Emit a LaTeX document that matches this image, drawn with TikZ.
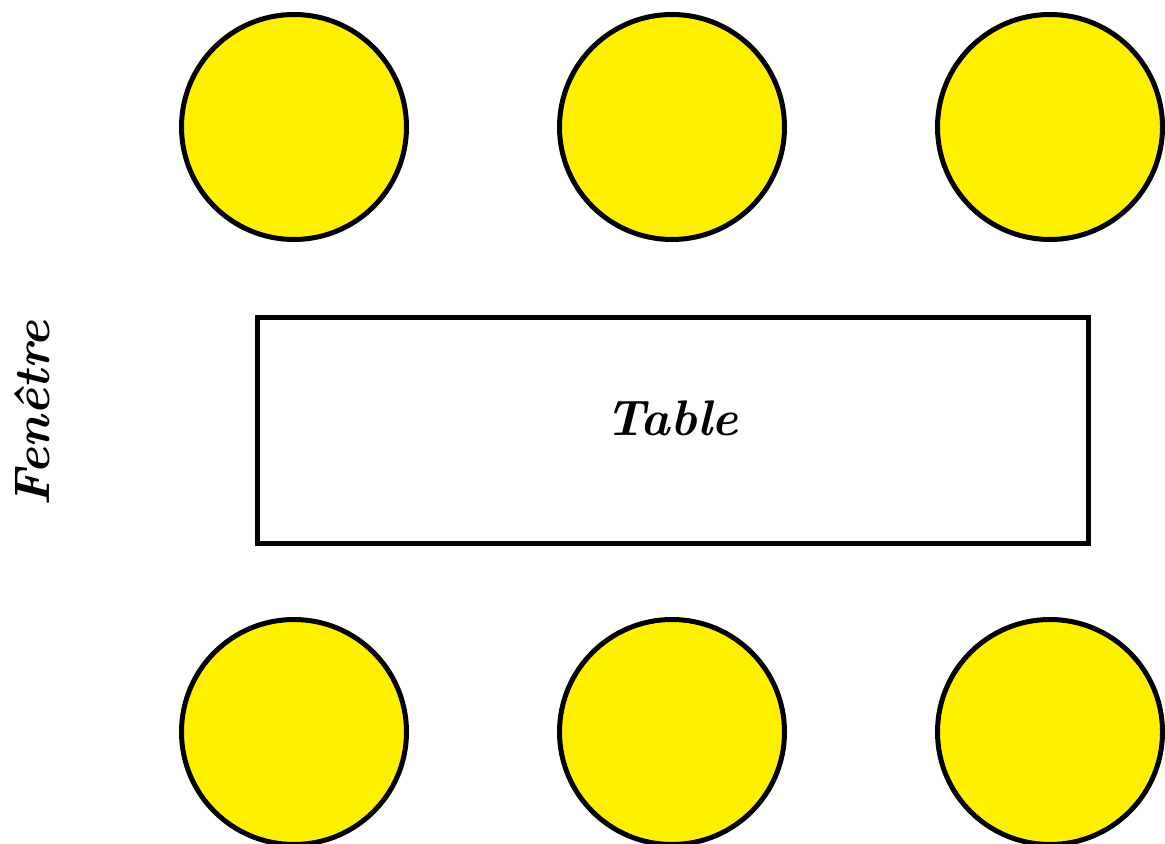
\documentclass[tikz,border=0pt]{standalone}
\definecolor{chairyellow}{RGB}{255,240,0}
\begin{document}
\begin{tikzpicture}[x=0.5pt,y=-0.5pt,
  chair/.style={circle,draw=black,fill=chairyellow,line width=2.5pt,minimum size=112.5pt,inner sep=0pt},
  tablebox/.style={draw=black,line width=2.5pt,minimum width=415.5pt,minimum height=113pt,inner sep=0pt},
  lbl/.style={font=\fontsize{25}{29}\selectfont\bfseries\itshape}]
\useasboundingbox (0,0) rectangle (1165,844);
\node[chair] (c1) at (294,127) {};
\node[chair] (c2) at (672,127) {};
\node[chair] (c3) at (1050,127) {};
\node[chair] (c4) at (294,732) {};
\node[chair] (c5) at (672,732) {};
\node[chair] (c6) at (1050,732) {};
\node[tablebox] (t) at (672.5,430) {};
\node[lbl] (tl) at (672,418) {Table};
\node[lbl,rotate=90] (f) at (32,414) {Fenêtre};
\end{tikzpicture}
\end{document}
